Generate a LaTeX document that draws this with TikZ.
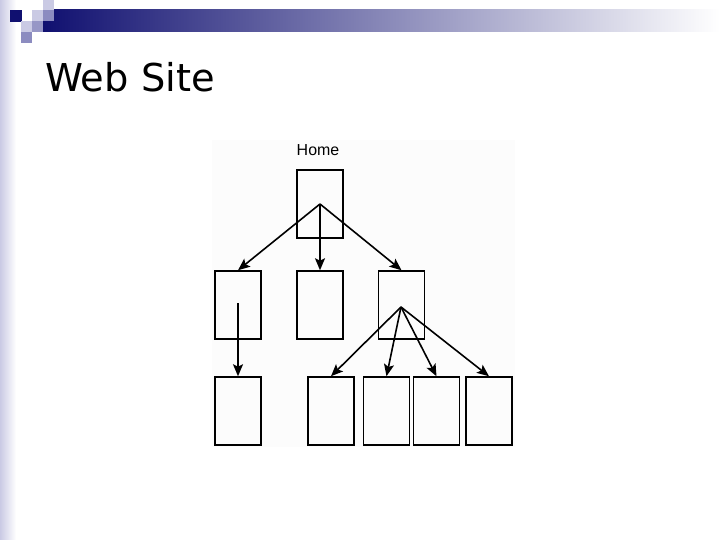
\documentclass[tikz,border=0pt]{standalone}
\usepackage{fontspec}
\setmainfont{DejaVu Sans}
\newfontfamily\homefont{Liberation Sans}
\usetikzlibrary{arrows.meta}
\definecolor{navy}{RGB}{16,16,112}
\definecolor{lav}{RGB}{202,202,228}
\definecolor{midlav}{RGB}{140,140,192}
\tikzset{page/.style={draw=black, line width=1.5bp, minimum width=46bp, minimum height=68bp, inner sep=0},
 link/.style={draw=black, line width=1.6bp, -{Stealth[length=12bp, width=10bp, inset=2.5bp]}}}
\begin{document}
\begin{tikzpicture}[x=1bp, y=-1bp]
\useasboundingbox (0,0) rectangle (720,540);
% slide decoration
\shade[left color=lav, right color=white] (0,0) rectangle (16,540);
\shade[left color=navy, right color=white] (43,10) rectangle (720,32);
\fill[navy] (10,10) rectangle (22,22);
\fill[lav] (43,0) rectangle (54,10);
\fill[lav] (32,10) rectangle (43,21);
\fill[midlav] (43,10) rectangle (54,21);
\fill[lav] (21,21) rectangle (32,32);
\fill[midlav!90] (32,21) rectangle (43,32);
\fill[midlav] (21,32) rectangle (32,43);
\node[anchor=base west, inner sep=0, font=\fontsize{38.5}{42}\selectfont] (title) at (45,92) {Web Site};
% site map
\fill[black!1] (212,140) rectangle (515,447);
\node[anchor=base, inner sep=0, font=\homefont\fontsize{16}{18}\selectfont] (hlabel) at (318,156) {Home};
\node[page] (home) at (320,204) {};
\node[page] (a) at (238,305) {};
\node[page] (b) at (320,305) {};
\node[page] (c) at (401.5,305) {};
\foreach \n/\x in {d/238, e/331, f/386.5, g/436.5, h/489}
 \node[page] (\n) at (\x,411) {};
\coordinate (hc) at (320,204);
\coordinate (ac) at (238,303);
\coordinate (cc) at (401,307);
\foreach \n in {a,b,c}
 \draw[link] (hc) -- (\n.north);
\draw[link] (ac) -- (d.north);
\foreach \n in {e,f,g,h}
 \draw[link] (cc) -- (\n.north);
\end{tikzpicture}
\end{document}
